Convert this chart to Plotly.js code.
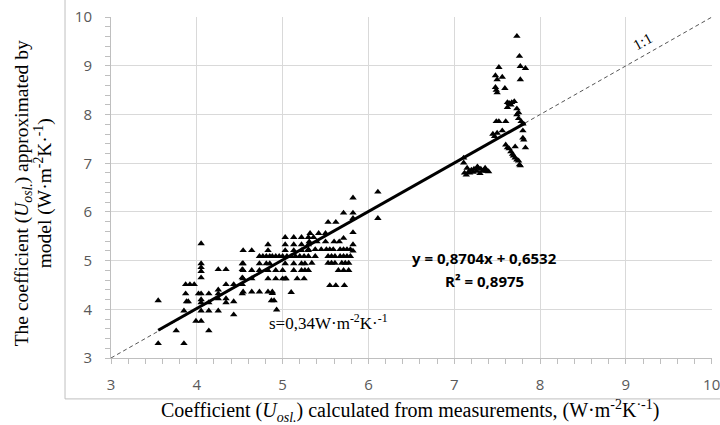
<!DOCTYPE html>
<html>
<head>
<meta charset="utf-8">
<script src="https://cdn.plot.ly/plotly-3.0.1.min.js"></script>
<style>html,body{margin:0;padding:0;background:#fff;}#chart{width:720px;height:425px;}</style>
</head>
<body>
<div id="chart"></div>
<script>
const measX = [
  3.55,3.55,3.76,3.85,3.85,3.87,3.92,3.97,3.87,3.88,3.90,4.02,4.05,4.05,4.05,4.05,4.05,4.05,4.05,4.05,4.05,3.99,4.05,
  4.14,4.14,4.14,4.14,4.25,4.34,4.25,4.25,4.25,4.25,4.34,4.34,4.34,4.43,4.43,4.43,4.53,4.53,4.53,4.53,4.53,
  4.54,4.64,4.54,4.54,4.64,4.54,4.64,4.54,4.64,4.83,4.83,4.73,4.77,4.81,4.85,4.88,4.92,4.96,5.00,
  4.73,4.81,4.85,4.73,4.83,4.92,5.00,4.83,4.92,5.00,5.04,4.73,4.83,4.88,4.87,4.90,4.93,4.88,
  5.03,5.13,5.22,5.03,5.13,5.22,5.30,5.03,5.13,5.22,5.30,5.03,5.13,5.22,5.26,5.13,5.22,5.26,5.03,5.17,5.25,
  5.10,5.30,5.36,5.05,5.10,5.15,5.20,5.25,5.30,
  5.82,6.11,6.11,5.71,5.82,5.82,5.53,5.62,5.82,5.71,5.32,5.42,5.50,5.31,5.40,5.50,5.60,5.66,
  5.30,5.38,5.45,5.51,5.55,5.59,5.67,5.71,5.75,5.79,5.82,5.82,
  5.38,5.53,5.57,5.61,5.67,5.71,5.75,5.79,5.34,5.53,5.57,5.61,5.69,5.73,5.77,5.30,5.65,5.71,5.77,5.55,5.62,5.72,
  7.73,7.76,7.77,7.83,7.77,7.52,7.48,7.50,7.56,7.48,7.49,7.50,7.59,7.62,7.64,7.66,7.62,7.67,7.70,
  7.73,7.75,7.73,7.75,7.78,7.49,7.52,7.60,7.56,7.80,7.80,7.80,7.81,7.83,
  7.60,7.62,7.64,7.66,7.68,7.69,7.71,7.73,7.75,7.76,7.77,7.71,7.11,7.11,
  7.12,7.14,7.17,7.20,7.23,7.26,7.28,7.31,7.33,7.35,7.38,7.40,7.18,7.22,7.30,7.15,7.27,7.36,7.45,7.50,7.47
];
const modelY = [
  4.18,3.30,3.56,3.30,3.97,4.51,4.51,4.51,4.32,4.16,4.16,4.32,4.32,5.35,4.94,4.86,4.78,4.65,4.20,4.14,3.97,3.76,3.76,
  4.32,4.14,3.97,3.56,4.82,4.82,4.40,4.32,4.22,3.97,4.51,4.22,4.14,4.51,4.16,3.89,4.94,4.82,4.65,4.51,4.32,
  5.21,5.21,4.94,4.80,4.80,4.63,4.63,4.36,4.36,5.33,5.21,5.09,5.09,5.09,5.09,5.09,5.09,5.09,5.09,
  4.94,4.94,4.94,4.80,4.80,4.80,4.80,4.63,4.63,4.63,4.63,4.36,4.36,4.36,4.18,4.18,3.99,4.33,
  5.48,5.48,5.48,5.33,5.33,5.33,5.33,5.21,5.21,5.21,5.21,4.94,4.94,4.94,4.94,4.80,4.80,4.80,4.63,4.63,4.63,
  4.35,5.48,5.48,5.09,5.09,5.09,5.09,5.09,5.09,
  6.29,6.41,5.87,5.98,5.98,5.87,5.79,5.79,5.58,5.46,5.56,5.56,5.56,5.39,5.39,5.39,5.39,5.39,
  5.23,5.23,5.23,5.23,5.23,5.23,5.23,5.23,5.23,5.23,5.33,5.20,
  5.09,5.09,5.09,5.09,5.09,5.09,5.09,5.09,4.95,4.95,4.95,4.95,4.95,4.95,4.95,4.80,4.80,4.80,4.80,4.49,4.49,4.49,
  9.61,9.20,8.99,8.95,8.72,8.97,8.80,8.72,8.77,8.56,8.50,8.45,8.54,8.25,8.23,8.20,8.15,8.25,8.27,
  8.12,8.04,8.00,7.92,7.86,7.86,7.86,7.86,7.67,7.81,7.67,7.52,7.48,7.32,
  7.38,7.32,7.30,7.24,7.19,7.15,7.11,7.07,7.05,6.97,6.95,7.34,7.11,7.01,
  6.80,6.76,6.83,6.86,6.88,6.84,6.90,6.88,6.84,6.86,6.84,6.83,6.80,6.82,6.79,6.90,6.93,6.90,7.60,7.62,7.55
];
// fitted line as drawn, and the 1:1 reference line
const fitX = [3.55, 7.83];
const fitY = [3.57, 7.83];
const oneX = [3, 10];
const oneY = [3, 10];

const xTicks = [3,4,5,6,7,8,9,10];
const yTicks = [3,4,5,6,7,8,9,10];

const traces = [
  {x: oneX, y: oneY, mode: 'lines', line: {color: '#555', width: 1, dash: '4px,3px'}, hoverinfo: 'skip'},
  {x: measX, y: modelY, mode: 'markers', marker: {symbol: 'triangle-up', size: 6.5, color: '#000'}},
  {x: fitX, y: fitY, mode: 'lines', line: {color: '#000', width: 3}}
];

const tickFont = {family: 'Open Sans, sans-serif', size: 15, color: '#595959'};
const serif = 'Liberation Serif, Times New Roman, serif';

const layout = {
  width: 720, height: 425,
  margin: {l: 111, r: 8, t: 17, b: 67},
  paper_bgcolor: '#fff', plot_bgcolor: '#fff',
  showlegend: false,
  xaxis: {
    range: [3, 10.004], tickvals: xTicks, ticktext: xTicks.map(String),
    showgrid: true, gridcolor: '#d9d9d9', gridwidth: 1,
    showline: true, linecolor: '#bfbfbf', linewidth: 1,
    ticks: 'outside', ticklen: 5, tickcolor: '#bfbfbf',
    minor: {dtick: 0.2, ticks: 'outside', ticklen: 5, tickcolor: '#bfbfbf', showgrid: false},
    zeroline: false, tickfont: tickFont, ticklabelstandoff: 8, ticklabeloverflow: 'allow'
  },
  yaxis: {
    range: [3, 10.004], tickvals: yTicks, ticktext: yTicks.map(String),
    showgrid: true, gridcolor: '#d9d9d9', gridwidth: 1,
    showline: true, linecolor: '#bfbfbf', linewidth: 1,
    ticks: 'outside', ticklen: 5, tickcolor: '#bfbfbf',
    minor: {dtick: 0.2, ticks: 'outside', ticklen: 5, tickcolor: '#bfbfbf', showgrid: false},
    zeroline: false, tickfont: tickFont, ticklabelstandoff: 10, ticklabeloverflow: 'allow'
  },
  shapes: [
    {type: 'line', xref: 'paper', yref: 'paper', x0: -0.0765, x1: -0.0765, y0: -0.12, y1: 1.06, line: {color: '#bfbfbf', width: 1}},
    {type: 'line', xref: 'paper', yref: 'paper', x0: -0.0765, x1: 1.02, y0: -0.12, y1: -0.12, line: {color: '#bfbfbf', width: 1}}
  ],
  annotations: [
    {x: 7.35, y: 5.06, xref: 'x', yref: 'y', text: '<b>y = 0,8704x + 0,6532</b>', showarrow: false,
     font: {family: 'Open Sans, sans-serif', size: 15, color: '#000'}},
    {x: 7.35, y: 4.58, xref: 'x', yref: 'y', text: '<b>R² = 0,8975</b>', showarrow: false,
     font: {family: 'Open Sans, sans-serif', size: 15, color: '#000'}},
    {x: 5.53, y: 3.74, xref: 'x', yref: 'y', text: 's=0,34W·m<sup>-2</sup>K·<sup>-1</sup>', showarrow: false,
     font: {family: serif, size: 17, color: '#000'}},
    {x: 9.19, y: 9.5, xref: 'x', yref: 'y', text: '1:1', showarrow: false, textangle: -29,
     font: {family: serif, size: 15, color: '#000'}},
    {x: -0.1464, y: 0.483, xref: 'paper', yref: 'paper', xanchor: 'center', yanchor: 'middle', textangle: -90, showarrow: false,
     text: 'The coefficient (<i>U<sub>osl.</sub></i>) approximated by',
     font: {family: serif, size: 19.5, color: '#000'}},
    {x: -0.1131, y: 0.483, xref: 'paper', yref: 'paper', xanchor: 'center', yanchor: 'middle', textangle: -90, showarrow: false,
     text: 'model (W·m<sup>-2</sup>K·<sup>-1</sup>)',
     font: {family: serif, size: 19.5, color: '#000'}},
    {x: 0.498, y: -0.155, xref: 'paper', yref: 'paper', xanchor: 'center', yanchor: 'middle', showarrow: false,
     text: 'Coefficient (<i>U<sub>osl.</sub></i>) calculated from measurements, (W·m<sup>-2</sup>K<sup>·-1</sup>)',
     font: {family: serif, size: 20, color: '#000'}}
  ]
};

Plotly.newPlot('chart', traces, layout, {displayModeBar: false, staticPlot: true});
</script>
</body>
</html>
